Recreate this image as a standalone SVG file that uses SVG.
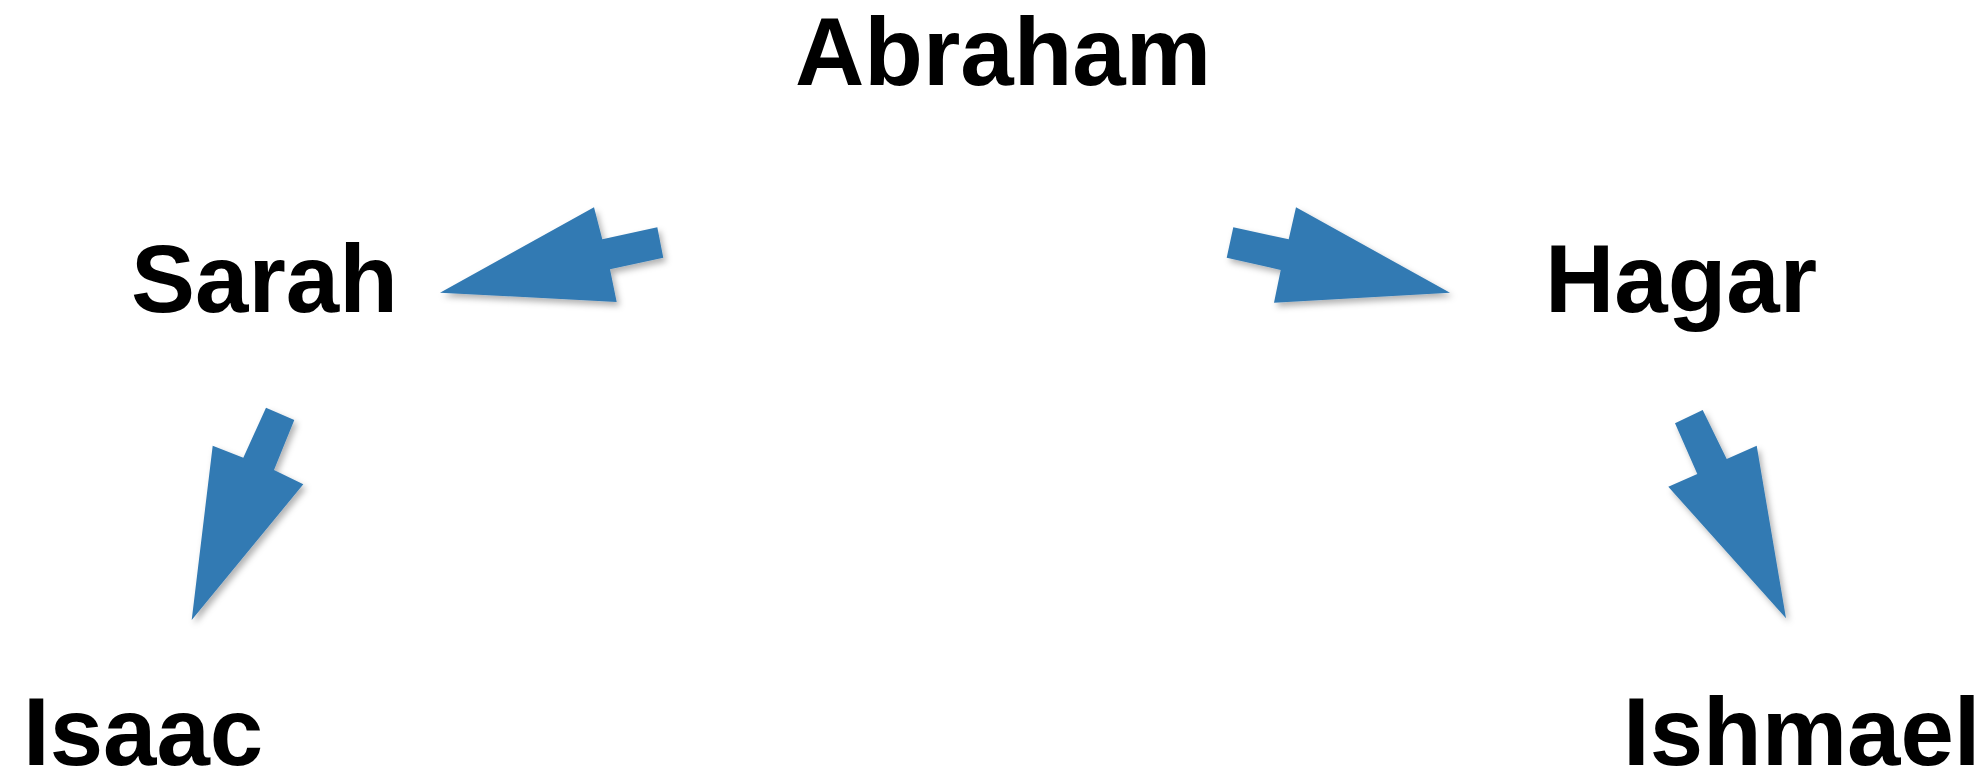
<svg xmlns="http://www.w3.org/2000/svg" width="1984" height="771" viewBox="0 0 1984 771">
<style>
.lbl{font-family:"Liberation Sans",Arial,Helvetica,sans-serif;font-weight:bold;font-size:96px;fill:#000}
.arr{fill:#337ab3;filter:url(#sh)}
</style>
<defs>
<filter id="sh" x="-20%" y="-20%" width="140%" height="140%">
<feDropShadow dx="3" dy="4" stdDeviation="3" flood-color="#000" flood-opacity="0.3"/>
</filter>
</defs>
<rect width="1984" height="771" fill="#fff"/>
<g id="connectors">
<polygon class="arr" points="440,292.7 594,207.3 602.3,239.3 657.3,227.3 663.3,257.7 610,269.3 616.7,302"/>
<polygon class="arr" points="1450,292.7 1296,207.3 1288.7,239.3 1233.3,227.3 1226.7,257.7 1280.7,270 1274,302.7"/>
<polygon class="arr" points="191.7,620 212.7,445.7 243.3,457.7 266,407.7 294.3,420 274,470 303.3,484.3"/>
<polygon class="arr" points="1786,618.3 1756.7,445.7 1726.7,459 1702.7,410 1675,423.3 1697.3,474 1668.3,486.7"/>
</g>
<g id="abraham"><text class="lbl" x="795" y="85">Abraham</text></g>
<g id="sarah"><text class="lbl" x="131" y="312">Sarah</text></g>
<g id="hagar"><text class="lbl" x="1545" y="312">Hagar</text></g>
<g id="isaac"><text class="lbl" x="23" y="765">Isaac</text></g>
<g id="ishmael"><text class="lbl" x="1623" y="765">Ishmael</text></g>
</svg>
